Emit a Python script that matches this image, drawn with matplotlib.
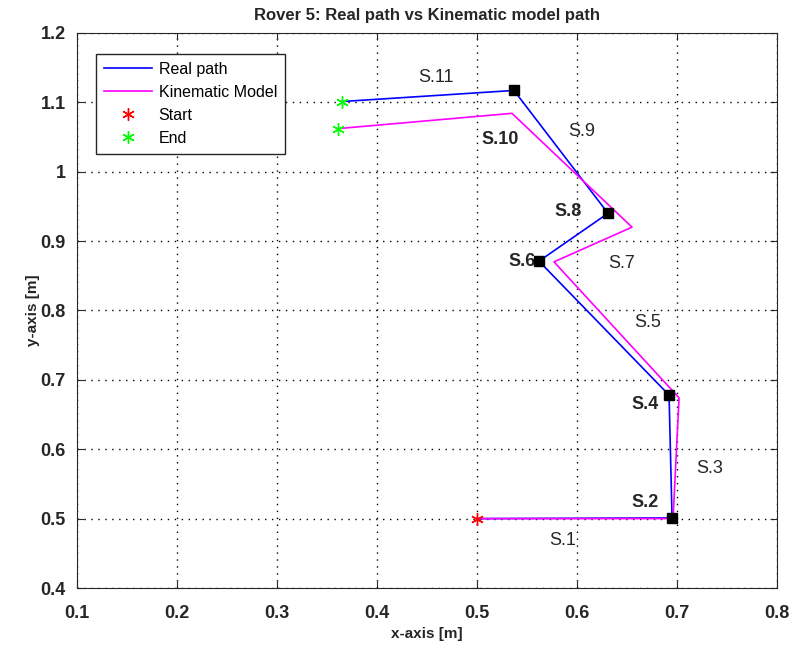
import matplotlib.pyplot as plt

plt.rcParams['font.family'] = ['Liberation Sans', 'DejaVu Sans']

# real path (blue), corners marked with black squares
real_x = [0.500, 0.695, 0.692, 0.562, 0.631, 0.537, 0.365]
real_y = [0.500, 0.501, 0.678, 0.871, 0.940, 1.117, 1.101]

# kinematic model path (magenta)
kin_x = [0.500, 0.696, 0.702, 0.577, 0.655, 0.535, 0.361]
kin_y = [0.500, 0.500, 0.674, 0.870, 0.920, 1.084, 1.062]

# segment labels
seg_names = ["S.1", "S.2", "S.3", "S.4", "S.5", "S.6", "S.7", "S.8", "S.9", "S.10", "S.11"]
seg_x = [0.586, 0.668, 0.733, 0.668, 0.671, 0.545, 0.645, 0.591, 0.605, 0.523, 0.459]
seg_y = [0.468, 0.523, 0.572, 0.664, 0.783, 0.871, 0.867, 0.943, 1.058, 1.047, 1.135]
seg_bold = [False, True, False, True, False, True, False, True, False, True, False]

fig = plt.figure(figsize=(7.95, 6.57), dpi=100)
ax = fig.add_axes([0.0965, 0.105, 0.881, 0.845])

ax.plot(real_x, real_y, color="blue", lw=1.2, label="Real path", zorder=2)
ax.plot(kin_x, kin_y, color="magenta", lw=1.2, label="Kinematic Model", zorder=3)
ax.plot(real_x[0], real_y[0], marker=(6, 2, 0), ls="none", color="red", ms=9, mew=1,
        label="Start", zorder=4)
ax.plot([real_x[-1], kin_x[-1]], [real_y[-1], kin_y[-1]], marker=(6, 2, 0), ls="none",
        color="#00ff00", ms=9, mew=1, label="End", zorder=4)
ax.plot(real_x[1:-1], real_y[1:-1], "s", color="black", ms=7, zorder=5)

for i in range(len(seg_names)):
    ax.text(seg_x[i], seg_y[i], seg_names[i], fontsize=13, ha="center", va="center",
            color="#262626", fontweight="bold" if seg_bold[i] else "normal")

ax.set_xlim(0.1, 0.8)
ax.set_ylim(0.4, 1.2)
ax.set_xticks([0.1, 0.2, 0.3, 0.4, 0.5, 0.6, 0.7, 0.8])
ax.set_yticks([0.4, 0.5, 0.6, 0.7, 0.8, 0.9, 1.0, 1.1, 1.2])
ax.set_xticklabels(["0.1", "0.2", "0.3", "0.4", "0.5", "0.6", "0.7", "0.8"], fontweight="bold")
ax.set_yticklabels(["0.4", "0.5", "0.6", "0.7", "0.8", "0.9", "1", "1.1", "1.2"], fontweight="bold")
ax.tick_params(direction="in", top=True, right=True, labelsize=13, length=5, colors="#262626")
ax.tick_params(axis="x", pad=12)
ax.tick_params(axis="y", pad=8)
ax.grid(True, linestyle=(0, (1, 4)), color="black", linewidth=1)
for s in ax.spines.values():
    s.set_color("#262626")

ax.set_title("Rover 5: Real path vs Kinematic model path", fontsize=12, fontweight="bold",
             color="#262626", pad=9)
ax.set_xlabel("x-axis [m]", fontsize=11, fontweight="bold", color="#262626", labelpad=4)
ax.set_ylabel("y-axis [m]", fontsize=11, fontweight="bold", color="#262626", labelpad=0)

leg = ax.legend(loc="upper left", bbox_to_anchor=(0.028, 0.962), fontsize=11.5, fancybox=False,
                edgecolor="#262626", framealpha=1, borderaxespad=0, handlelength=3.0,
                labelspacing=0.5, handletextpad=0.4, borderpad=0.5)
leg.get_frame().set_linewidth(1)

fig.savefig("out.png")
